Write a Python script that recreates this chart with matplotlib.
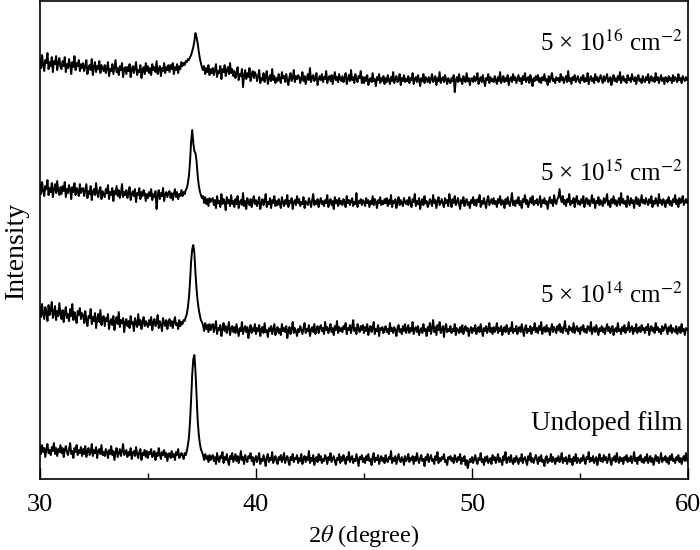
import numpy as np
import matplotlib
matplotlib.use("Agg")
import matplotlib.pyplot as plt
from matplotlib.ticker import MultipleLocator

plt.rcParams["font.family"] = ["Liberation Serif", "DejaVu Serif"]
plt.rcParams["mathtext.fontset"] = "stix"

# scan grid: 2θ from 30° in 0.05° steps (one row below = one degree)
TWO_THETA_START = 30.0
TWO_THETA_STEP = 0.05

# intensities, arb. units, traces already offset
undoped = [
    33, 25, 34, 27, 31, 22, 30, 35, 26, 29, 24, 32, 28, 36, 25, 31, 23, 30, 27, 34,
    26, 31, 22, 29, 33, 27, 24, 30, 36, 25, 28, 21, 31, 27, 34, 24, 29, 26, 32, 23,
    30, 25, 33, 22, 28, 31, 24, 27, 35, 23, 29, 26, 32, 21, 28, 30, 25, 34, 24, 27,
    23, 30, 27, 21, 29, 25, 33, 24, 28, 19, 27, 31, 22, 26, 30, 23, 28, 35, 24, 26,
    29, 22, 27, 24, 31, 20, 26, 28, 23, 32, 25, 21, 27, 30, 19, 26, 24, 29, 22, 28,
    21, 27, 25, 30, 22, 24, 28, 19, 26, 23, 31, 25, 20, 27, 24, 29, 22, 26, 18, 25,
    26, 21, 28, 22, 25, 19, 27, 24, 30, 21, 23, 26, 24, 20, 26, 24, 28, 34, 42, 58,
    80, 105, 120, 124, 108, 85, 60, 45, 36, 30, 27, 24, 19, 25, 20, 23, 17, 24, 19, 22,
    24, 18, 22, 15, 26, 20, 17, 23, 21, 27, 16, 22, 19, 25, 18, 14, 23, 20, 26, 17,
    21, 25, 18, 23, 16, 20, 28, 19, 22, 15, 24, 20, 17, 23, 21, 26, 18, 22, 14, 20,
    23, 17, 21, 26, 15, 20, 18, 24, 19, 13, 22, 25, 17, 21, 19, 27, 16, 20, 23, 18,
    15, 22, 19, 24, 17, 21, 26, 16, 20, 23, 18, 14, 22, 19, 25, 17, 21, 20, 24, 16,
    21, 18, 25, 15, 20, 23, 17, 22, 19, 28, 16, 21, 18, 24, 14, 20, 22, 17, 25, 19,
    23, 16, 20, 18, 24, 21, 15, 22, 19, 26, 17, 20, 23, 18, 14, 21, 19, 25, 16, 22,
    18, 24, 20, 15, 22, 19, 27, 17, 21, 23, 16, 20, 18, 25, 19, 13, 22, 20, 24, 17,
    21, 16, 23, 19, 25, 18, 20, 14, 22, 26, 17, 21, 19, 24, 15, 20, 23, 18, 21, 16,
    24, 19, 17, 22, 20, 28, 16, 21, 18, 23, 15, 20, 25, 19, 17, 22, 20, 14, 23, 18,
    20, 25, 17, 21, 19, 23, 15, 22, 18, 26, 20, 16, 21, 24, 18, 20, 13, 22, 19, 25,
    17, 21, 24, 18, 20, 15, 23, 19, 27, 16, 21, 18, 22, 20, 25, 17, 19, 14, 22, 20,
    23, 18, 21, 16, 24, 20, 17, 22, 19, 25, 15, 21, 18, 23, 14, 19, 11, 16, 20, 17,
    22, 16, 20, 24, 18, 15, 21, 19, 26, 17, 20, 14, 22, 18, 23, 16, 19, 21, 15, 24,
    19, 22, 16, 20, 25, 17, 21, 18, 14, 23, 19, 27, 16, 20, 22, 17, 24, 18, 15, 21,
    17, 23, 19, 15, 21, 18, 25, 16, 20, 22, 18, 14, 23, 19, 26, 17, 21, 16, 20, 24,
    20, 15, 22, 18, 24, 17, 19, 13, 21, 23, 16, 20, 18, 25, 17, 22, 19, 15, 21, 18,
    23, 17, 20, 26, 16, 21, 18, 22, 15, 19, 24, 17, 20, 14, 22, 18, 25, 16, 21, 19,
    16, 21, 18, 24, 19, 15, 22, 20, 27, 17, 21, 18, 23, 16, 19, 22, 14, 20, 25, 18,
    21, 17, 24, 19, 22, 16, 20, 25, 18, 14, 21, 19, 23, 17, 26, 20, 16, 22, 18, 21,
    15, 22, 19, 24, 17, 21, 18, 23, 16, 20, 27, 18, 21, 15, 22, 19, 24, 17, 20, 16,
    22, 18, 25, 16, 20, 23, 17, 21, 14, 19, 24, 18, 22, 16, 20, 26, 17, 21, 19, 23,
    17, 21, 15, 23, 19, 25, 18, 20, 16, 22, 19, 24, 17, 21, 15, 20, 23, 18, 26, 19,
    17,
]

dose_5e14 = [
    171, 162, 175, 165, 160, 172, 167, 158, 174, 164, 169, 177, 161, 166, 173, 159, 168, 163, 176, 165,
    160, 169, 157, 166, 172, 161, 165, 158, 170, 163, 175, 159, 167, 162, 156, 168, 164, 171, 160, 166,
    164, 156, 168, 159, 153, 163, 161, 170, 155, 162, 158, 166, 151, 160, 165, 157, 169, 154, 161, 163,
    153, 161, 158, 165, 150, 157, 160, 154, 163, 149, 158, 162, 155, 167, 152, 159, 156, 161, 147, 157,
    160, 153, 158, 151, 163, 155, 157, 148, 161, 156, 152, 165, 154, 159, 150, 157, 162, 153, 158, 155,
    152, 159, 154, 162, 149, 157, 160, 153, 156, 164, 151, 158, 155, 148, 161, 156, 153, 159, 150, 157,
    160, 153, 158, 151, 157, 162, 154, 156, 150, 159, 153, 157, 155, 159, 158, 162, 165, 172, 182, 198,
    218, 230, 234, 226, 206, 190, 178, 170, 164, 159, 157, 154, 148, 156, 150, 154, 147, 155, 149, 153,
    155, 147, 152, 158, 145, 151, 149, 154, 143, 150, 156, 148, 153, 146, 151, 157, 144, 150, 153, 147,
    152, 146, 155, 149, 143, 151, 148, 157, 145, 150, 153, 147, 152, 141, 149, 154, 146, 151, 148, 155,
    145, 151, 148, 154, 143, 150, 152, 146, 156, 147, 149, 142, 151, 148, 153, 145, 150, 155, 144, 149,
    152, 146, 150, 144, 155, 148, 151, 147, 153, 141, 149, 152, 145, 150, 157, 146, 151, 148, 143, 150,
    147, 153, 149, 145, 151, 156, 146, 150, 148, 154, 143, 149, 152, 147, 155, 145, 150, 153, 146, 151,
    154, 148, 151, 145, 157, 149, 152, 146, 150, 155, 147, 151, 144, 153, 149, 158, 146, 152, 148, 151,
    147, 153, 150, 156, 145, 151, 149, 154, 146, 152, 159, 148, 151, 145, 155, 150, 147, 153, 149, 154,
    146, 152, 148, 155, 144, 150, 153, 147, 151, 157, 145, 150, 148, 154, 143, 151, 149, 152, 146, 150,
    153, 147, 150, 145, 156, 148, 151, 146, 152, 149, 143, 151, 154, 147, 150, 145, 153, 148, 155, 146,
    150, 154, 146, 151, 148, 157, 145, 150, 152, 147, 153, 144, 149, 151, 146, 155, 148, 150, 143, 152,
    148, 156, 145, 151, 159, 147, 152, 144, 154, 149, 157, 146, 150, 153, 142, 151, 155, 147, 150, 148,
    153, 146, 150, 148, 155, 144, 151, 149, 146, 152, 147, 154, 145, 150, 153, 148, 151, 143, 149, 152,
    146, 151, 148, 154, 145, 150, 152, 147, 155, 149, 143, 151, 148, 153, 146, 150, 156, 147, 151, 145,
    152, 147, 150, 156, 146, 151, 148, 153, 144, 149, 152, 147, 154, 150, 145, 151, 148, 157, 146, 150,
    148, 153, 145, 150, 152, 147, 155, 149, 143, 151, 154, 146, 150, 148, 153, 145, 151, 149, 156, 147,
    151, 146, 153, 149, 157, 145, 150, 152, 147, 154, 148, 151, 144, 150, 155, 147, 152, 149, 146, 153,
    149, 155, 147, 152, 146, 151, 158, 148, 150, 145, 153, 149, 151, 147, 156, 146, 150, 153, 148, 151,
    145, 152, 149, 154, 147, 150, 146, 153, 151, 148, 157, 145, 150, 152, 147, 154, 149, 144, 151, 148,
    153, 147, 151, 145, 150, 155, 148, 152, 146, 150, 153, 144, 149, 151, 147, 156, 148, 150, 145, 152,
    148, 154, 146, 151, 149, 157, 147, 150, 153, 145, 151, 148, 155, 146, 150, 152, 147, 154, 149, 151,
    146, 152, 149, 155, 144, 150, 153, 148, 151, 146, 156, 149, 152, 147, 150, 145, 153, 148, 151, 155,
    150, 145, 152, 148, 154, 146, 151, 149, 147, 153, 145, 150, 152, 146, 155, 148, 150, 144, 151, 149,
    150,
]

dose_5e15 = [
    294, 285, 297, 288, 283, 293, 290, 299, 284, 291, 287, 296, 282, 290, 295, 286, 298, 288, 284, 292,
    285, 293, 288, 297, 282, 290, 286, 294, 289, 280, 292, 287, 296, 284, 291, 288, 283, 295, 286, 290,
    291, 283, 289, 295, 281, 288, 285, 293, 279, 287, 290, 284, 296, 286, 282, 289, 292, 280, 288, 285,
    282, 290, 286, 294, 280, 287, 284, 291, 278, 288, 285, 293, 283, 289, 281, 286, 295, 282, 287, 284,
    289, 281, 286, 292, 279, 285, 288, 283, 290, 277, 286, 284, 291, 280, 287, 283, 289, 286, 278, 285,
    281, 287, 283, 290, 279, 285, 282, 288, 270, 284, 289, 280, 286, 283, 291, 278, 285, 287, 282, 286,
    288, 281, 286, 279, 285, 290, 282, 287, 280, 285, 283, 289, 283, 287, 285, 289, 291, 296, 304, 318,
    338, 349, 336, 328, 326, 318, 304, 294, 288, 284, 281, 283, 276, 282, 275, 280, 273, 281, 277, 279,
    281, 274, 279, 271, 283, 276, 278, 272, 285, 275, 280, 277, 269, 282, 276, 279, 273, 284, 275, 278,
    272, 280, 275, 283, 271, 277, 279, 274, 286, 273, 278, 270, 281, 276, 274, 280, 272, 278, 283, 275,
    279, 273, 277, 282, 270, 276, 280, 274, 278, 285, 272, 277, 275, 281, 271, 279, 276, 283, 273, 278,
    274, 280, 276, 271, 282, 277, 273, 279, 275, 284, 272, 278, 276, 281, 270, 277, 279, 274, 283, 276,
    280, 273, 277, 275, 282, 271, 278, 276, 274, 281, 277, 272, 279, 285, 274, 278, 275, 280, 272, 277,
    281, 275, 278, 273, 279, 276, 284, 272, 277, 280, 274, 278, 270, 282, 276, 279, 273, 281, 275, 278,
    274, 280, 277, 272, 283, 276, 279, 274, 278, 281, 273, 277, 275, 286, 272, 278, 276, 280, 274, 279,
    277, 273, 281, 276, 279, 272, 278, 275, 283, 274, 280, 277, 271, 279, 276, 282, 274, 278, 275, 280,
    276, 281, 273, 279, 275, 284, 272, 278, 276, 280, 271, 277, 282, 274, 279, 276, 273, 281, 277, 275,
    279, 274, 282, 276, 272, 280, 277, 285, 273, 278, 275, 281, 270, 277, 280, 274, 283, 276, 278, 272,
    275, 280, 277, 273, 284, 276, 279, 271, 278, 282, 274, 277, 280, 275, 272, 281, 276, 279, 273, 285,
    278, 272, 280, 276, 283, 274, 277, 281, 275, 270, 279, 276, 282, 273, 278, 280, 274, 277, 271, 279,
    276, 282, 274, 279, 273, 280, 277, 284, 272, 278, 275, 281, 276, 271, 279, 283, 274, 277, 280, 275,
    281, 275, 278, 272, 280, 276, 283, 274, 279, 277, 271, 280, 275, 282, 276, 273, 279, 286, 274, 278,
    273, 279, 276, 282, 274, 278, 271, 280, 277, 284, 275, 279, 272, 277, 281, 276, 283, 274, 278, 276,
    280, 274, 277, 283, 272, 279, 276, 281, 275, 278, 270, 277, 282, 276, 279, 273, 284, 277, 275, 280,
    282, 290, 281, 277, 283, 275, 279, 273, 280, 277, 285, 274, 278, 276, 281, 272, 279, 283, 275, 278,
    274, 280, 276, 283, 272, 278, 281, 275, 279, 273, 277, 284, 276, 280, 271, 278, 276, 282, 274, 279,
    277, 273, 281, 276, 279, 285, 274, 278, 272, 280, 276, 283, 275, 279, 273, 277, 281, 274, 286, 276,
    280, 275, 278, 272, 283, 277, 274, 281, 276, 279, 271, 278, 282, 275, 280, 273, 277, 284, 276, 279,
    275, 281, 277, 274, 280, 276, 283, 272, 278, 275, 281, 277, 273, 285, 276, 279, 274, 280, 277, 272,
    279, 276, 282, 274, 278, 273, 280, 277, 284, 275, 279, 272, 281, 276, 278, 283, 274, 277, 280, 276,
    277,
]

dose_5e16 = [
    420, 411, 424, 414, 408, 419, 416, 426, 410, 417, 413, 422, 407, 418, 415, 423, 409, 416, 421, 412,
    410, 418, 413, 422, 407, 415, 411, 420, 414, 405, 417, 412, 423, 409, 416, 413, 419, 408, 415, 411,
    416, 408, 413, 419, 405, 411, 414, 409, 420, 404, 412, 417, 407, 413, 410, 418, 406, 414, 411, 408,
    414, 406, 411, 417, 403, 410, 408, 415, 405, 412, 419, 407, 411, 404, 413, 409, 416, 402, 410, 412,
    405, 412, 408, 415, 402, 410, 413, 406, 411, 417, 404, 409, 407, 414, 401, 410, 412, 405, 416, 408,
    413, 406, 411, 404, 415, 409, 412, 407, 418, 405, 410, 413, 403, 411, 408, 416, 406, 412, 409, 414,
    407, 414, 410, 416, 405, 412, 409, 415, 406, 413, 410, 417, 413, 416, 414, 418, 417, 420, 419, 422,
    424, 428, 432, 438, 446, 442, 436, 428, 421, 416, 412, 409, 413, 405, 411, 407, 414, 404, 410, 406,
    411, 404, 409, 415, 402, 408, 406, 413, 400, 410, 407, 414, 403, 409, 412, 405, 416, 406, 410, 403,
    408, 401, 406, 412, 399, 405, 403, 410, 392, 404, 409, 400, 406, 402, 411, 398, 405, 408, 401, 407,
    404, 398, 403, 409, 396, 401, 399, 406, 397, 402, 408, 395, 400, 404, 398, 410, 399, 403, 396, 401,
    398, 405, 400, 396, 407, 401, 403, 397, 405, 399, 394, 402, 406, 398, 401, 409, 397, 403, 400, 404,
    402, 396, 401, 407, 398, 403, 395, 400, 405, 399, 411, 397, 402, 404, 398, 401, 406, 394, 400, 403,
    399, 405, 397, 402, 400, 408, 396, 401, 403, 398, 404, 395, 401, 407, 399, 402, 397, 405, 400, 398,
    403, 397, 401, 406, 395, 400, 404, 398, 409, 399, 402, 396, 405, 400, 397, 403, 401, 408, 396, 402,
    396, 402, 398, 404, 394, 399, 401, 397, 406, 398, 400, 393, 402, 399, 405, 396, 401, 398, 403, 395,
    401, 397, 404, 399, 395, 402, 398, 407, 396, 400, 403, 397, 399, 405, 394, 401, 398, 404, 397, 400,
    398, 403, 396, 401, 399, 406, 395, 400, 402, 397, 404, 399, 393, 401, 398, 405, 396, 402, 400, 397,
    402, 396, 400, 405, 397, 399, 403, 394, 401, 398, 407, 396, 400, 402, 397, 404, 399, 395, 401, 398,
    396, 401, 398, 404, 387, 399, 402, 397, 405, 398, 400, 395, 403, 399, 397, 406, 398, 401, 394, 400,
    401, 397, 403, 398, 400, 406, 395, 399, 402, 397, 404, 398, 393, 401, 399, 405, 396, 402, 398, 400,
    397, 403, 399, 395, 402, 398, 407, 396, 400, 403, 397, 401, 398, 404, 394, 400, 402, 397, 405, 399,
    402, 396, 400, 404, 398, 401, 395, 403, 399, 406, 397, 400, 402, 396, 404, 399, 393, 401, 398, 403,
    399, 404, 397, 401, 396, 402, 399, 405, 398, 400, 394, 403, 397, 401, 406, 398, 400, 396, 402, 399,
    401, 397, 405, 399, 402, 396, 400, 403, 397, 408, 398, 401, 395, 402, 399, 404, 397, 400, 403, 398,
    396, 402, 399, 404, 397, 401, 398, 406, 395, 400, 403, 398, 401, 396, 405, 399, 402, 397, 400, 404,
    400, 396, 403, 398, 401, 405, 397, 399, 402, 394, 400, 404, 398, 401, 397, 403, 399, 407, 396, 401,
    403, 398, 400, 396, 404, 399, 401, 397, 405, 400, 398, 402, 395, 401, 404, 398, 400, 396, 403, 399,
    397, 402, 399, 405, 396, 400, 403, 398, 401, 397, 406, 399, 402, 396, 400, 404, 398, 401, 395, 402,
    400, 397, 403, 399, 401, 396, 404, 398, 402, 400, 397, 405, 399, 401, 396, 403, 400, 398, 402, 399,
    401,
]

traces = [undoped, dose_5e14, dose_5e15, dose_5e16]
labels = ["Undoped film",
          "5 \u00d7 10$^{14}$ cm$^{-2}$",
          "5 \u00d7 10$^{15}$ cm$^{-2}$",
          "5 \u00d7 10$^{16}$ cm$^{-2}$"]
label_size = [19.5, 18, 18, 18]
label_y = [56, 184, 306, 436]

fig = plt.figure(figsize=(7, 5.5), dpi=100)
ax = fig.add_axes([0.057, 0.129, 0.926, 0.869])

for y in traces:
    x = TWO_THETA_START + TWO_THETA_STEP * np.arange(len(y))
    ax.plot(x, y, color="black", lw=1.4)

for lab, ly, fs in zip(labels, label_y, label_size):
    ax.text(59.75, ly, lab, ha="right", va="center", fontsize=fs)

ax.set_xlim(30, 60)
ax.set_ylim(0, 478)
ax.xaxis.set_major_locator(MultipleLocator(10))
ax.xaxis.set_minor_locator(MultipleLocator(5))
ax.tick_params(axis="x", which="major", direction="in", length=8, width=1,
               labelsize=19, pad=11, top=False)
ax.tick_params(axis="x", which="minor", direction="in", length=4, width=1, top=False)
ax.set_yticks([])
for s in ax.spines.values():
    s.set_linewidth(1.2)

ax.set_xlabel(r"2$\theta$ (degree)", fontsize=17.5, labelpad=5)
ax.set_ylabel("Intensity", fontsize=20)
ax.yaxis.set_label_coords(-0.017, 0.479)

fig.savefig("out.png", dpi=100)
